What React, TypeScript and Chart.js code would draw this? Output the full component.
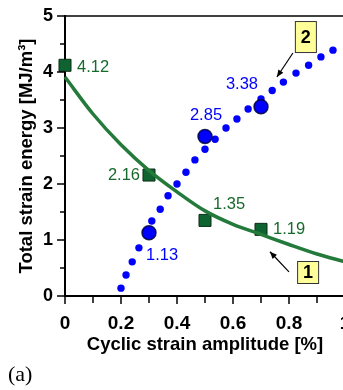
import React, { useEffect, useRef } from 'react';
import { Chart, registerables } from 'chart.js';
Chart.register(...registerables);

// Curve 1: measured total strain energy (squares) and its fitted curve
const measuredAmplitude = [0, 0.3, 0.5, 0.7];
const measuredEnergy = [4.12, 2.16, 1.35, 1.19];
const fitAmplitude = [0, 0.1, 0.2, 0.3, 0.4, 0.5, 0.6, 0.7, 0.8, 0.9, 1.0];
const fitEnergy = [3.91, 3.25, 2.7, 2.24, 1.86, 1.52, 1.28, 1.1, 0.92, 0.75, 0.61];

// Curve 2: dotted series (blue) and highlighted points
const dotAmplitude = [0.2, 0.218, 0.24, 0.264, 0.31, 0.34, 0.368, 0.4, 0.432, 0.464, 0.5, 0.536, 0.575, 0.614, 0.654, 0.7, 0.74, 0.78, 0.825, 0.87, 0.914, 0.957];
const dotEnergy = [0.14, 0.375, 0.61, 0.86, 1.34, 1.55, 1.79, 2.0, 2.21, 2.43, 2.62, 2.8, 3.0, 3.16, 3.34, 3.52, 3.67, 3.82, 3.98, 4.12, 4.27, 4.39];
const keyAmplitude = [0.3, 0.5, 0.7];
const keyEnergy = [1.13, 2.85, 3.38];

// Callouts
const calloutText = ['1', '2'];
const calloutTipX = [0.732, 0.757];
const calloutTipY = [0.79, 3.91];
const calloutTailX = [0.8, 0.814];
const calloutTailY = [0.43, 4.34];
const calloutBoxX = [0.829, 0.821];
const calloutBoxY = [0.625, 4.91];

const xTitle = 'Cyclic strain amplitude [%]';
const yTitle = 'Total strain energy [MJ/m³]';
const panelLabel = '(a)';

const GREEN = '#17692c';
const GREEN_LINE = '#237a3a';
const BLUE = '#0000ff';
const SANS = '"Liberation Sans", Arial, sans-serif';

const pts = (xs: number[], ys: number[]) => xs.map((x, i) => ({ x, y: ys[i] }));

export default function App() {
  const ref = useRef<HTMLCanvasElement>(null);
  useEffect(() => {
    const canvas = ref.current!;
    const overlay = {
      id: 'overlay',
      afterDraw(chart: any) {
        const { ctx, chartArea } = chart;
        const xs = chart.scales.x;
        const ys = chart.scales.y;
        ctx.save();
        // top border
        ctx.strokeStyle = '#000';
        ctx.lineWidth = 1.5;
        ctx.beginPath();
        ctx.moveTo(chartArea.left, chartArea.top);
        ctx.lineTo(chart.width, chartArea.top);
        ctx.stroke();
        // ticks
        ctx.lineWidth = 1.5;
        ys.ticks.forEach((t: any) => {
          const py = ys.getPixelForValue(t.value);
          const major = Math.abs(t.value - Math.round(t.value)) < 1e-6;
          const len = major ? 8 : 5;
          ctx.beginPath();
          ctx.moveTo(chartArea.left - len, py);
          ctx.lineTo(chartArea.left, py);
          ctx.stroke();
        });
        xs.ticks.forEach((t: any) => {
          const px = xs.getPixelForValue(t.value);
          const major = Math.round(t.value * 10) % 2 === 0;
          const len = major ? 8 : 7;
          ctx.beginPath();
          ctx.moveTo(px, chartArea.bottom);
          ctx.lineTo(px, chartArea.bottom + len);
          ctx.stroke();
        });
        // value labels
        ctx.font = `16.5px ${SANS}`;
        ctx.textBaseline = 'middle';
        const greenOff = [[12, 2, 'left'], [-9, 0, 'right'], [8, -16, 'left'], [12, 0, 'left']];
        measuredAmplitude.forEach((a, i) => {
          const px = xs.getPixelForValue(a);
          const py = ys.getPixelForValue(measuredEnergy[i]);
          const o = greenOff[i];
          ctx.fillStyle = GREEN;
          ctx.textAlign = o[2] as CanvasTextAlign;
          ctx.fillText(measuredEnergy[i].toFixed(2), px + (o[0] as number), py + (o[1] as number));
        });
        const blueOff = [[-3, 23, 'left'], [1, -21, 'center'], [-3, -22, 'right']];
        keyAmplitude.forEach((a, i) => {
          const px = xs.getPixelForValue(a);
          const py = ys.getPixelForValue(keyEnergy[i]);
          const o = blueOff[i];
          ctx.fillStyle = BLUE;
          ctx.textAlign = o[2] as CanvasTextAlign;
          ctx.fillText(keyEnergy[i].toFixed(2), px + (o[0] as number), py + (o[1] as number));
        });
        // callouts
        const boxSize = [[21, 22], [21, 31]];
        calloutText.forEach((txt, i) => {
          const tx = xs.getPixelForValue(calloutTipX[i]);
          const ty = ys.getPixelForValue(calloutTipY[i]);
          const sx = xs.getPixelForValue(calloutTailX[i]);
          const sy = ys.getPixelForValue(calloutTailY[i]);
          ctx.strokeStyle = '#000';
          ctx.fillStyle = '#000';
          ctx.lineWidth = 1.2;
          ctx.beginPath();
          ctx.moveTo(sx, sy);
          ctx.lineTo(tx, ty);
          ctx.stroke();
          const ang = Math.atan2(ty - sy, tx - sx);
          const hl = 7, hw = 3;
          ctx.beginPath();
          ctx.moveTo(tx, ty);
          ctx.lineTo(tx - hl * Math.cos(ang) + hw * Math.sin(ang), ty - hl * Math.sin(ang) - hw * Math.cos(ang));
          ctx.lineTo(tx - hl * Math.cos(ang) - hw * Math.sin(ang), ty - hl * Math.sin(ang) + hw * Math.cos(ang));
          ctx.closePath();
          ctx.fill();
          const bx = xs.getPixelForValue(calloutBoxX[i]);
          const by = ys.getPixelForValue(calloutBoxY[i]);
          const [bw, bh] = boxSize[i];
          ctx.fillStyle = '#ffff99';
          ctx.fillRect(bx, by, bw, bh);
          ctx.strokeStyle = '#333';
          ctx.lineWidth = 1;
          ctx.strokeRect(bx + 0.5, by + 0.5, bw, bh);
          ctx.fillStyle = '#000';
          ctx.font = `bold 18px ${SANS}`;
          ctx.textAlign = 'center';
          ctx.textBaseline = 'middle';
          ctx.fillText(txt, bx + bw / 2 + 0.5, by + bh / 2 + 1);
        });
        // panel label
        ctx.fillStyle = '#000';
        ctx.font = `22px "Liberation Serif", "Times New Roman", serif`;
        ctx.textAlign = 'left';
        ctx.textBaseline = 'alphabetic';
        ctx.fillText(panelLabel, 8, 381);
        ctx.restore();
      },
    };
    const chart = new Chart(canvas, {
      type: 'scatter',
      data: {
        datasets: [
          {
            data: pts(fitAmplitude, fitEnergy),
            showLine: true,
            borderColor: GREEN_LINE,
            borderWidth: 3.5,
            pointRadius: 0,
            tension: 0.4,
            cubicInterpolationMode: 'monotone',
            clip: false,
          } as any,
          {
            data: pts(measuredAmplitude, measuredEnergy),
            pointStyle: 'rect',
            pointRadius: 8.5,
            backgroundColor: '#0e6330',
            borderColor: '#0a2e15',
            borderWidth: 1,
            clip: false,
          },
          {
            data: pts(keyAmplitude, keyEnergy),
            pointRadius: 7,
            backgroundColor: BLUE,
            borderColor: 'rgba(0,0,60,0.85)',
            borderWidth: 1.5,
            clip: false,
          },
          {
            data: pts(dotAmplitude, dotEnergy),
            pointRadius: 3.7,
            backgroundColor: BLUE,
            borderWidth: 0,
            clip: false,
          },
        ],
      },
      options: {
        animation: false,
        responsive: false,
        maintainAspectRatio: false,
        events: [],
        layout: { padding: { top: 16, right: 15, left: 0, bottom: 0 } },
        plugins: { legend: { display: false }, tooltip: { enabled: false } },
        scales: {
          x: {
            type: 'linear',
            min: 0,
            max: 1,
            afterFit: (s: any) => { s.height = 94; },
            border: { display: true, color: '#000', width: 2 },
            grid: { drawOnChartArea: false, color: 'transparent', tickLength: 8 },
            ticks: {
              stepSize: 0.1,
              padding: 8,
              color: '#000',
              font: { family: SANS, size: 19, weight: 'bold' },
              maxRotation: 0,
              autoSkip: false,
              callback: (v: any) => (Math.round(v * 10) % 2 === 0 ? String(Math.round(v * 10) / 10) : ''),
            },
            title: {
              display: true,
              text: xTitle,
              color: '#000',
              font: { family: SANS, size: 18.5, weight: 'bold' },
              padding: { top: 0, bottom: 34 },
            },
          },
          y: {
            type: 'linear',
            min: 0,
            max: 5,
            afterFit: (s: any) => { s.width = 65; },
            border: { display: true, color: '#000', width: 2 },
            grid: { drawOnChartArea: false, color: 'transparent', tickLength: 8 },
            ticks: {
              stepSize: 0.5,
              padding: 4,
              color: '#000',
              font: { family: SANS, size: 18, weight: 'bold' },
              autoSkip: false,
              callback: (v: any) => (Math.abs(v - Math.round(v)) < 1e-6 ? String(Math.round(v)) : ''),
            },
            title: {
              display: true,
              text: yTitle,
              color: '#000',
              font: { family: SANS, size: 18.5, weight: 'bold' },
              padding: { top: 16, bottom: 0 },
            },
          },
        },
      } as any,
      plugins: [overlay],
    });
    return () => chart.destroy();
  }, []);
  return (
    <div style={{ position: 'absolute', left: 0, top: 0, width: 360, height: 390 }}>
      <canvas ref={ref} width={360} height={390} style={{ display: 'block', width: 360, height: 390 }} />
    </div>
  );
}
